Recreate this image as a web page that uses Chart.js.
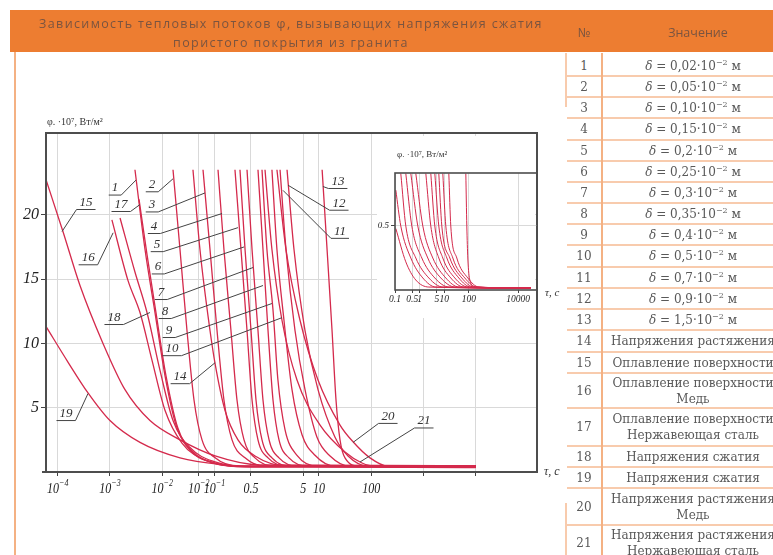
<!DOCTYPE html>
<html><head><meta charset="utf-8">
<script src="https://cdn.jsdelivr.net/npm/chart.js@4.4.1/dist/chart.umd.min.js"></script>
<style>
html,body{margin:0;padding:0;background:#fff;width:773px;height:555px;overflow:hidden;position:relative;font-family:'DejaVu Serif',serif;}
#hdr{position:absolute;left:10px;top:10px;width:763px;height:42px;background:#ED7D31;}
.ttl{position:absolute;white-space:nowrap;font-family:'Open Sans',sans-serif;font-size:12.5px;color:#7a5440;line-height:16px;}
#vline{position:absolute;left:14px;top:52px;width:2px;height:503px;background:#F4B183;}
canvas{position:absolute;}
.hl{position:absolute;left:567px;width:206px;height:2px;background:#F8CBAD;}
.vl{position:absolute;width:2px;background:#F4B183;}
.cell{position:absolute;display:flex;align-items:center;justify-content:center;flex-direction:column;font-size:12px;color:#595959;white-space:nowrap;line-height:16px;}
.cell sup{font-size:8px;line-height:0;vertical-align:5px;}
</style></head><body>
<div id="hdr"></div>
<div id="vline"></div>
<canvas id="main" width="567" height="555" style="left:0;top:0;"></canvas>
<canvas id="inset" width="207" height="182" style="left:360px;top:136px;"></canvas>
<script>
// ---------- DATA ----------
const curveNames = ['1','2','3','4','5','6','7','8','9','10','11','12','13','14','15','16','17','18','19','20','21'];
// [τ, s ; φ·10^7, W/m²]
const c1 = [[3.01e-3,23.5],[4.69e-3,17.3],[7.28e-3,12.4],[1.13e-2,7.5],[1.84e-2,3.65],[3.40e-2,1.7],[8.22e-2,0.78],[0.308,0.42],[1e4,0.42]];
const c2 = [[1.61e-2,23.5],[2.19e-2,17.3],[2.98e-2,11.0],[4.06e-2,5.6],[5.78e-2,2.5],[0.103,1.1],[0.308,0.45],[1e4,0.45]];
const c3 = [[6.04e-2,23.5],[8.22e-2,17.3],[0.112,11.0],[0.152,5.6],[0.217,2.5],[0.385,1.1],[0.928,0.45],[1e4,0.45]];
const c4 = [[0.117,23.5],[0.152,17.3],[0.207,11.0],[0.270,5.6],[0.368,2.5],[0.597,1.1],[1.44,0.45],[1e4,0.38]];
const c5 = [[0.247,23.5],[0.322,17.3],[0.420,11.0],[0.524,5.6],[0.681,2.5],[1.06,1.1],[2.56,0.45],[1e4,0.5]];
const c6 = [[0.308,23.5],[0.385,17.3],[0.501,11.0],[0.624,5.6],[0.813,2.5],[1.26,1.1],[3.05,0.45],[1e4,0.35]];
const c7 = [[0.420,23.5],[0.524,17.3],[0.681,11.0],[0.849,5.6],[1.11,2.5],[1.72,1.1],[3.97,0.45],[1e4,0.45]];
const c8 = [[0.681,23.5],[0.849,17.3],[1.06,11.0],[1.32,5.6],[1.72,2.5],[2.67,1.1],[6.17,0.45],[1e4,0.4]];
const c9 = [[0.813,23.5],[1.01,17.3],[1.32,12.6],[1.64,7.15],[2.24,3.3],[3.80,1.3],[9.59,0.45],[1e4,0.5]];
const c10 = [[1.26,23.5],[1.57,17.3],[2.14,11.8],[3.05,6.4],[4.74,2.9],[8.40,1.3],[20.3,0.45],[1e4,0.4]];
const c11 = [[1.80,23.5],[2.34,17.3],[3.48,11.0],[5.41,6.4],[9.18,2.7],[16.3,1.25],[39.3,0.45],[1e4,0.45]];
const c12 = [[2.45,23.5],[3.33,17.3],[5.41,11.0],[9.59,6.4],[20.3,2.7],[36.0,1.25],[86.9,0.45],[1e4,0.4]];
const c13 = [[11.5,23.5],[14.3,17.3],[17.8,11.0],[21.2,5.6],[25.3,2.5],[31.5,1.1],[61.1,0.45],[1e4,0.45]];
const c14 = [[3.88e-2,23.5],[5.28e-2,17.3],[8.22e-2,11.0],[0.103,8.4],[0.159,4.8],[0.282,2.5],[0.597,1.25],[2.24,0.5],[1e4,0.5]];
const c15 = [[6.0e-5,22.7],[1.26e-4,18.7],[2.67e-4,14.5],[7.36e-4,10.0],[1.94e-3,6.4],[5.83e-3,4.0],[2.19e-2,2.5],[0.103,1.25],[0.745,0.55],[1e4,0.5]];
const c16 = [[1.09e-3,19.6],[2.21e-3,14.9],[3.76e-3,12.4],[6.37e-3,8.7],[1.13e-2,4.8],[2.39e-2,2.25],[6.59e-2,0.93],[0.308,0.45],[1e4,0.45]];
const c17 = [[3.60e-3,21.2],[5.12e-3,16.9],[7.60e-3,12.4],[1.18e-2,7.5],[2.00e-2,3.4],[3.88e-2,1.55],[0.103,0.7],[0.385,0.4],[1e4,0.4]];
const c18 = [[1.56e-3,19.75],[3.01e-3,15.55],[5.12e-3,12.4],[9.08e-3,7.9],[1.61e-2,4.0],[3.40e-2,1.9],[0.103,0.78],[0.479,0.4],[1e4,0.4]];
const c19 = [[6.0e-5,11.3],[1.57e-4,8.55],[3.80e-4,6.15],[1.00e-3,4.0],[3.76e-3,2.3],[2.19e-2,1.1],[0.128,0.6],[0.745,0.45],[1e4,0.45]];
const c20 = [[1.57,23.5],[2.34,17.3],[4.34,11.8],[9.59,7.15],[25.3,3.65],[44.9,2.35],[94.8,1.1],[210,0.45],[1e4,0.45]];
const c21 = [[0.928,23.5],[1.26,17.3],[1.96,11.8],[3.80,7.15],[10.5,3.65],[31.5,1.55],[66.7,0.7],[118,0.45],[1e4,0.45]];
const mainCurves = [c1,c2,c3,c4,c5,c6,c7,c8,c9,c10,c11,c12,c13,c14,c15,c16,c17,c18,c19,c20,c21];

// points on the curves where the numbered leader lines end [τ, φ]
const labelAnchors = [[3.15e-3,22.7],[1.61e-2,22.8],[6.59e-2,21.7],[0.140,20.1],[0.282,19.0],[0.368,17.5],[0.547,15.9],[0.849,14.5],[1.26,13.1],[1.96,12.0],[2.05,21.9],[2.56,22.3],[11.9,22.2],[0.103,8.5],[1.21e-4,18.7],[1.15e-3,18.6],[3.76e-3,20.8],[5.83e-3,12.4],[3.80e-4,6.1],[44.9,2.3],[61.1,0.78]];

const xTickValues = [1e-4,1e-3,1e-2,0.05,0.1,0.5,5,10,100,1000,10000];
const xTickLabels = ['10^−4','10^−3','10^−2','10^−2','10^−1','0.5','5','10','100','',''];
const yTickValues = [5,10,15,20];

// inset (enlarged lower part), φ·10^7
const i1 = [[0.108,0.48],[0.275,0.22],[0.701,0.078],[2.37,0.023],[3.3e4,0.015]];
const i2 = [[0.108,0.78],[0.172,0.5],[0.439,0.25],[1.35,0.094],[4.56,0.023],[3.3e4,0.015]];
const i3 = [[0.172,0.91],[0.275,0.5],[0.701,0.25],[2.37,0.094],[8.77,0.023],[3.3e4,0.015]];
const i4 = [[0.275,0.91],[0.482,0.5],[1.23,0.25],[4.15,0.094],[15.4,0.023],[3.3e4,0.015]];
const i5 = [[0.439,0.91],[0.845,0.5],[2.15,0.25],[7.28,0.094],[27.0,0.023],[3.3e4,0.015]];
const i6 = [[0.701,0.91],[1.35,0.5],[3.44,0.25],[11.6,0.094],[39.2,0.023],[3.3e4,0.015]];
const i7 = [[1.79,0.91],[2.85,0.5],[6.03,0.25],[18.5,0.094],[62.6,0.023],[3.3e4,0.015]];
const i8 = [[2.85,0.91],[4.15,0.5],[8.77,0.25],[27.0,0.094],[91.0,0.023],[3.3e4,0.015]];
const i9 = [[4.15,0.91],[6.03,0.5],[12.8,0.25],[39.2,0.094],[121,0.023],[3.3e4,0.015]];
const i10 = [[6.03,0.91],[7.99,0.5],[16.9,0.25],[51.9,0.094],[160,0.023],[3.3e4,0.015]];
const i11 = [[8.77,0.91],[11.6,0.5],[22.4,0.25],[68.7,0.094],[211,0.023],[3.3e4,0.015]];
const i12 = [[15.4,0.91],[18.5,0.5],[32.5,0.25],[91.0,0.094],[255,0.023],[3.3e4,0.015]];
const i13 = [[75.5,0.91],[83.0,0.5],[91.0,0.25],[110,0.078],[175,0.023],[3.3e4,0.015]];
const insetCurves = [i1,i2,i3,i4,i5,i6,i7,i8,i9,i10,i11,i12,i13];
const insetTickValues = [0.1,0.5,1,5,10,100,10000];
const insetTickLabels = ['0.1','0.5','1','5','10','100','10000'];
const insetYTicks = [0.5];

// table
const tableTitleNum = '№';
const tableTitleVal = 'Значение';
const tableValues = [
 'δ = 0,02·10|−2| м','δ = 0,05·10|−2| м','δ = 0,10·10|−2| м','δ = 0,15·10|−2| м','δ = 0,2·10|−2| м',
 'δ = 0,25·10|−2| м','δ = 0,3·10|−2| м','δ = 0,35·10|−2| м','δ = 0,4·10|−2| м','δ = 0,5·10|−2| м',
 'δ = 0,7·10|−2| м','δ = 0,9·10|−2| м','δ = 1,5·10|−2| м',
 'Напряжения растяжения','Оплавление поверхности','Оплавление поверхности\nМедь',
 'Оплавление поверхности\nНержавеющая сталь','Напряжения сжатия','Напряжения сжатия',
 'Напряжения растяжения\nМедь','Напряжения растяжения\nНержавеющая сталь'];
const titleLines = ['Зависимость тепловых потоков φ, вызывающих  напряжения сжатия','пористого покрытия из гранита'];

// ---------- LAYOUT (HTML parts) ----------
const rowBounds = [55,76,97,118,140,161,182,203,224,245,267,288,309,330,352,373,408,446,467,488,525,560];
(function buildTable(){
  const body = document.body;
  const mk = (cls, css, html) => { const d=document.createElement('div'); d.className=cls; Object.assign(d.style,css); if(html!==undefined) d.innerHTML=html; body.appendChild(d); return d; };
  const t1 = mk('ttl',{left:'0px',top:'16px'},titleLines[0]);
  const t2 = mk('ttl',{left:'0px',top:'35px'},titleLines[1]);
  [[t1,505],[t2,236]].forEach(([el,target])=>{
    const w = el.getBoundingClientRect().width; const n = el.textContent.length;
    el.style.letterSpacing = ((target-w)/n).toFixed(2)+'px';
    const w2 = el.getBoundingClientRect().width;
    el.style.left = (291 - w2/2)+'px';
  });
  const hn = mk('ttl',{top:'25px'},tableTitleNum); hn.style.left=(584-hn.getBoundingClientRect().width/2)+'px';
  const hv = mk('ttl',{top:'25px'},tableTitleVal); hv.style.left=(698-hv.getBoundingClientRect().width/2)+'px';
  for(let i=1;i<rowBounds.length-1;i++) mk('hl',{top:(rowBounds[i]-1)+'px'});
  mk('vl',{left:'601px',top:'53px',height:'502px'});
  mk('vl',{left:'565px',top:'53px',height:'54px',background:'#F8CBAD'});
  mk('vl',{left:'565px',top:'503px',height:'52px',background:'#F8CBAD'});
  for(let i=0;i<tableValues.length;i++){
    const top=rowBounds[i], h=rowBounds[i+1]-rowBounds[i];
    mk('cell',{left:'567px',width:'34px',top:top+'px',height:h+'px'},String(i+1));
    const txt = tableValues[i];
    let html;
    if(txt.startsWith('δ')){
      const parts = txt.split('|');
      html = '<div><i>δ</i>'+parts[0].slice(1)+'<sup>'+parts[1]+'</sup>'+parts[2]+'</div>';
    } else {
      html = txt.split('\n').map(s=>'<div>'+s+'</div>').join('');
    }
    mk('cell',{left:'603px',width:'180px',top:top+'px',height:h+'px'},html);
  }
})();

// ---------- CHARTS ----------
const RED = '#d42a4c';
const serif = '"Liberation Serif","DejaVu Serif",serif';
const labelOffsets = [[-21,8],[-21,6],[-53,12],[-68,13],[-81,17],[-86,20],[-92,25],[-98,26],[-103,27],[-110,31],[57,41],[51,18],[15,-5],[-35,14],[24,-29],[-25,25],[-19,0],[-36,5],[-22,20],[35,-26],[64,-41]];

function drawTickLabel(ctx, text, px, py){
  const [base, exp] = text.split('^');
  ctx.font='italic 15px '+serif;
  const wb = ctx.measureText(base).width;
  let we = 0;
  if(exp){ ctx.font='italic 10px '+serif; we = ctx.measureText(exp).width; }
  const sx = 0.8;
  ctx.save();
  ctx.translate(px, py); ctx.scale(sx,1);
  const total = wb+we; let x0 = -total/2;
  ctx.textAlign='left'; ctx.textBaseline='middle'; ctx.fillStyle='#222';
  ctx.font='italic 15px '+serif; ctx.fillText(base, x0, 0);
  if(exp){ ctx.font='italic 10px '+serif; ctx.fillText(exp, x0+wb, -6); }
  ctx.restore();
}

const mainDecor = {
  id:'mainDecor',
  afterDatasetsDraw(chart){
    const {ctx, chartArea:a, scales:{x,y}} = chart;
    ctx.save();
    ctx.strokeStyle='#4d4d4d'; ctx.lineWidth=2;
    ctx.strokeRect(a.left,a.top,a.right-a.left,a.bottom-a.top);
    ctx.beginPath(); ctx.moveTo(a.left-4,a.bottom); ctx.lineTo(a.left,a.bottom); ctx.stroke();
    // x tick labels (condensed italic, real superscripts)
    xTickValues.forEach((v,i)=>{ if(xTickLabels[i]) drawTickLabel(ctx, xTickLabels[i], x.getPixelForValue(v), a.bottom+17); });
    // curve numbers with leaders
    ctx.font='italic 13px '+serif; ctx.textAlign='center'; ctx.textBaseline='middle';
    curveNames.forEach((name,i)=>{
      const ax=x.getPixelForValue(labelAnchors[i][0]), ay=y.getPixelForValue(labelAnchors[i][1]);
      const [dx,dy]=labelOffsets[i]; const cx=ax+dx, cy=ay+dy;
      const w=ctx.measureText(name).width;
      const ux0=cx-w/2-3, ux1=cx+w/2+3, uy=cy+7;
      ctx.fillStyle='#333'; ctx.fillText(name,cx,cy);
      ctx.strokeStyle='#444'; ctx.lineWidth=1;
      ctx.beginPath(); ctx.moveTo(ux0,uy); ctx.lineTo(ux1,uy);
      const sx = dx<0?ux1:ux0; ctx.moveTo(sx,uy); ctx.lineTo(ax,ay); ctx.stroke();
    });
    ctx.fillStyle='#333'; ctx.textAlign='left';
    ctx.font='10px '+serif; ctx.fillText('φ. ·10⁷, Вт/м²', 47, 122);
    ctx.font='italic 12px '+serif; ctx.fillText('τ, c', 544, 472);
    ctx.restore();
  }
};

new Chart(document.getElementById('main'), {
  type:'line',
  data:{datasets: mainCurves.map((d,i)=>({label:curveNames[i], data:d, borderColor:RED, borderWidth:1.3, pointRadius:0, cubicInterpolationMode:'monotone', fill:false}))},
  options:{
    responsive:false, animation:false, events:[],
    layout:{padding:{top:133,right:30,left:0,bottom:0}},
    plugins:{legend:{display:false},tooltip:{enabled:false}},
    scales:{
      x:{type:'logarithmic', min:5.97e-5, max:1.49e5,
        afterBuildTicks:s=>{s.ticks=xTickValues.map(v=>({value:v}));},
        afterFit:s=>{s.height=83;},
        ticks:{autoSkip:false,maxRotation:0,minRotation:0,callback:()=>'',font:{family:serif,size:14,style:'italic'},color:'#222',padding:3},
        grid:{color:'#d9d9d9',tickColor:'#444',tickLength:4},
        border:{display:false}},
      y:{type:'linear', min:0, max:26.36,
        afterBuildTicks:s=>{s.ticks=yTickValues.map(v=>({value:v}));},
        afterFit:s=>{s.width=46;},
        ticks:{callback:v=>String(v),font:{family:serif,size:16,style:'italic'},color:'#222',padding:2},
        grid:{color:'#d9d9d9',tickColor:'#444',tickLength:5},
        border:{display:false}}
    }
  },
  plugins:[mainDecor]
});

const insetDecor = {
  id:'insetDecor',
  beforeDraw(chart){
    const ctx=chart.ctx; ctx.save(); ctx.fillStyle='#fff'; ctx.fillRect(17,0,158,182); ctx.restore();
  },
  afterDatasetsDraw(chart){
    const {ctx, chartArea:a} = chart;
    ctx.save();
    ctx.strokeStyle='#4d4d4d'; ctx.lineWidth=1.6;
    ctx.strokeRect(a.left,a.top,a.right-a.left,a.bottom-a.top);
    ctx.fillStyle='#333'; ctx.textAlign='left'; ctx.textBaseline='middle';
    ctx.font='9px '+serif; ctx.fillText('φ. ·10⁷, Вт/м²', 37, 19);
    ctx.font='italic 11px '+serif; ctx.fillText('τ, c', 185, 157);
    ctx.restore();
  }
};

new Chart(document.getElementById('inset'), {
  type:'line',
  data:{datasets: insetCurves.map((d,i)=>({label:curveNames[i], data:d, borderColor:RED, borderWidth:1, pointRadius:0, cubicInterpolationMode:'monotone', fill:false}))},
  options:{
    responsive:false, animation:false, events:[],
    layout:{padding:{top:37,right:30,left:0,bottom:0}},
    plugins:{legend:{display:false},tooltip:{enabled:false}},
    scales:{
      x:{type:'logarithmic', min:0.1, max:5.9e4,
        afterBuildTicks:s=>{s.ticks=insetTickValues.map(v=>({value:v}));},
        afterFit:s=>{s.height=28;},
        ticks:{autoSkip:false,maxRotation:0,minRotation:0,callback:(v,i)=>insetTickLabels[i],font:{family:serif,size:9.5,style:'italic'},color:'#222',padding:1},
        grid:{color:'#d9d9d9',tickColor:'#444',tickLength:3},
        border:{display:false}},
      y:{type:'linear', min:0, max:0.914,
        afterBuildTicks:s=>{s.ticks=insetYTicks.map(v=>({value:v}));},
        afterFit:s=>{s.width=35;},
        ticks:{callback:v=>String(v),font:{family:serif,size:9,style:'italic'},color:'#222',padding:2},
        grid:{color:'#d9d9d9',tickColor:'#444',tickLength:4},
        border:{display:false}}
    }
  },
  plugins:[insetDecor]
});
</script>
</body></html>
